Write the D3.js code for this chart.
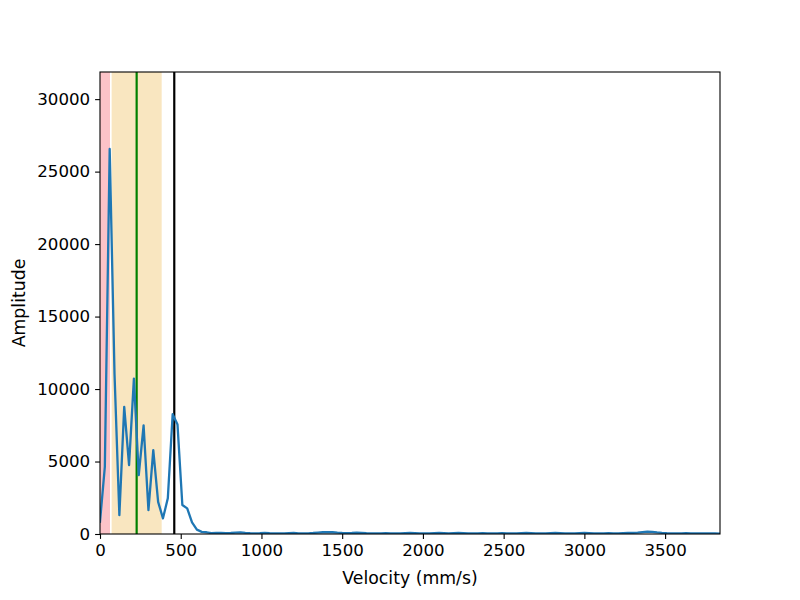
<!DOCTYPE html>
<html>
<head>
<meta charset="utf-8">
<script src="https://cdn.jsdelivr.net/npm/d3@7"></script>
<style>
  html, body { margin: 0; padding: 0; background: #fff; }
  svg { display: block; font-family: "DejaVu Sans", sans-serif; }
</style>
</head>
<body>
<svg id="chart" width="800" height="600"></svg>
<script>
// ---- Data ----
const velocities = [
  0, 30, 60, 90, 120, 150, 180, 210, 240, 270, 300, 330, 360, 390, 420, 450, 480, 510, 540, 570,
  600, 630, 660, 690, 720, 750, 780, 810, 840, 870, 900, 930, 960, 990, 1020, 1050, 1080, 1110, 1140, 1170,
  1200, 1230, 1260, 1290, 1320, 1350, 1380, 1410, 1440, 1470, 1500, 1530, 1560, 1590, 1620, 1650, 1680, 1710, 1740, 1770,
  1800, 1830, 1860, 1890, 1920, 1950, 1980, 2010, 2040, 2070, 2100, 2130, 2160, 2190, 2220, 2250, 2280, 2310, 2340, 2370,
  2400, 2430, 2460, 2490, 2520, 2550, 2580, 2610, 2640, 2670, 2700, 2730, 2760, 2790, 2820, 2850, 2880, 2910, 2940, 2970,
  3000, 3030, 3060, 3090, 3120, 3150, 3180, 3210, 3240, 3270, 3300, 3330, 3360, 3390, 3420, 3450, 3480, 3510, 3540, 3570,
  3600, 3630, 3660, 3690, 3720, 3750, 3780, 3810, 3840
];
const amplitudes = [
  850, 4640, 26560, 11000, 1300, 8770, 4750, 10720, 4060, 7500, 1650, 5780, 2220, 1080, 2460, 8260, 7550, 2000, 1770, 800,
  300, 150, 120, 60, 80, 70, 60, 70, 90, 110, 80, 60, 50, 60, 80, 60, 50, 40, 50, 60,
  70, 50, 40, 50, 70, 100, 120, 130, 120, 90, 70, 60, 70, 90, 80, 60, 50, 40, 50, 60,
  50, 40, 50, 60, 70, 60, 50, 40, 50, 60, 70, 60, 50, 60, 70, 60, 50, 40, 50, 60,
  50, 40, 50, 60, 50, 40, 50, 60, 70, 60, 50, 40, 50, 60, 70, 60, 50, 40, 50, 60,
  70, 60, 50, 40, 50, 60, 50, 40, 60, 70, 80, 100, 130, 160, 150, 110, 80, 60, 50, 40,
  50, 60, 50, 40, 50, 40, 50, 40, 30
];
const xTicks = [0, 500, 1000, 1500, 2000, 2500, 3000, 3500];
const yTicks = [0, 5000, 10000, 15000, 20000, 25000, 30000];
const xMax = 3840;
const bands = [
  { from: 0, to: 62, color: "#fcc3c8" },
  { from: 72, to: 382, color: "#f9e6c0" }
];
const vLines = [
  { at: 227, color: "#008000" },
  { at: 460, color: "#000000" }
];
const xLabel = "Velocity (mm/s)";
const yLabel = "Amplitude";

// ---- Layout ----
const W = 800, H = 600;
const FS = 16.67;
const LFS = 17.3;
const margin = { left: 100, right: 80, top: 72, bottom: 66 };
const pw = W - margin.left - margin.right;
const ph = H - margin.top - margin.bottom;

const svg = d3.select("#chart");
const g = svg.append("g").attr("transform", `translate(${margin.left},${margin.top})`);

const x = d3.scaleLinear().domain([0, xMax]).range([0, pw]);
const y = d3.scaleLinear().domain([0, 1.2 * d3.max(amplitudes)]).range([ph, 0]);

g.append("clipPath").attr("id", "clip").append("rect").attr("width", pw).attr("height", ph);
const plot = g.append("g").attr("clip-path", "url(#clip)");

plot.selectAll("rect.band").data(bands).enter().append("rect")
  .attr("class", "band")
  .attr("x", d => x(d.from)).attr("width", d => x(d.to) - x(d.from))
  .attr("y", 0).attr("height", ph)
  .attr("fill", d => d.color);

plot.selectAll("line.vl").data(vLines).enter().append("line")
  .attr("class", "vl")
  .attr("x1", d => x(d.at)).attr("x2", d => x(d.at))
  .attr("y1", 0).attr("y2", ph)
  .attr("stroke", d => d.color).attr("stroke-width", 2.2);

const pts = velocities.map((v, i) => [v, amplitudes[i]]);
plot.append("path").datum(pts)
  .attr("fill", "none").attr("stroke", "#1f77b4").attr("stroke-width", 2.3)
  .attr("stroke-linejoin", "round").attr("stroke-linecap", "square")
  .attr("d", d3.line().x(d => x(d[0])).y(d => y(d[1])));

// Axes
const xAxis = g.append("g").attr("transform", `translate(0,${ph})`)
  .call(d3.axisBottom(x).tickValues(xTicks).tickFormat(d3.format("d")).tickSizeOuter(0).tickSize(4.9).tickPadding(4.9));
const yAxis = g.append("g")
  .call(d3.axisLeft(y).tickValues(yTicks).tickFormat(d3.format("d")).tickSizeOuter(0).tickSize(4.9).tickPadding(4.9));
[xAxis, yAxis].forEach(a => {
  a.select(".domain").remove();
  a.attr("font-size", null).attr("font-family", null);
  a.selectAll(".tick line").attr("stroke", "#000").attr("stroke-width", 1.1);
  a.selectAll(".tick text").attr("font-size", FS).attr("fill", "#000")
    .attr("font-family", "'DejaVu Sans', sans-serif");
});

// Frame
g.append("rect").attr("width", pw).attr("height", ph)
  .attr("fill", "none").attr("stroke", "#000").attr("stroke-width", 1.1);

// Labels placed next to the tick labels
let minLeft = Infinity;
yAxis.selectAll(".tick text").each(function () {
  const b = this.getBBox();
  minLeft = Math.min(minLeft, b.x);
});
const yLabelRight = margin.left + minLeft - 8;
svg.append("text")
  .attr("transform", `translate(${yLabelRight - 0.236 * LFS},${margin.top + ph / 2}) rotate(-90)`)
  .attr("text-anchor", "middle").attr("font-size", LFS).attr("fill", "#000").text(yLabel);
svg.append("text").attr("x", margin.left + pw / 2).attr("y", 584)
  .attr("text-anchor", "middle").attr("font-size", LFS).attr("fill", "#000").text(xLabel);
</script>
</body>
</html>
